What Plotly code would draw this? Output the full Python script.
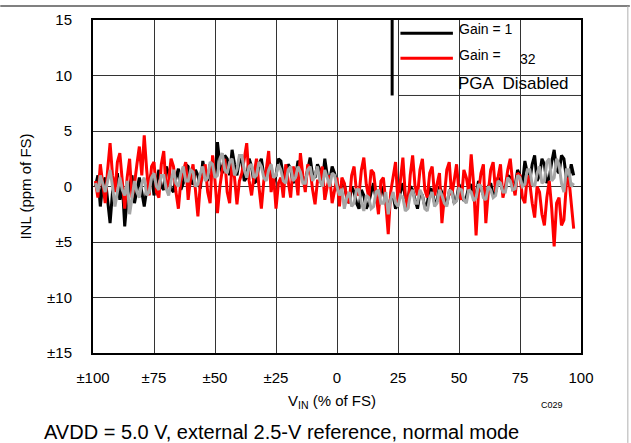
import plotly.graph_objects as go

# ---------------- data ----------------
x_vals = list(range(-99, 98))  # input sample positions, % of FS

inl_gain1 = [
    0.0, 1.0, -1.8, 0.2, 0.8, -1.0, -3.3, -0.5, 0.5, 1.2,
    -1.2, 0.3, -3.6, -1.0, 0.0, 1.0, -1.5, -0.2, 0.8, -0.5,
    -1.8, -0.3, 0.5, 1.2, -0.8, 0.3, 1.5, 0.0, -0.3, 1.8,
    1.2, -0.2, -0.5, 0.8, 1.6, -0.3, 0.3, 2.0, 1.8, 0.5,
    0.2, 1.5, 1.0, -0.2, 2.3, 1.0, 0.5, 2.0, 1.5, 0.8,
    4.0, 2.0, 1.2, 2.8, 2.5, 1.0, 3.3, 2.0, 1.0, 2.5,
    2.2, 0.5, 0.8, 2.5, 1.8, 0.3, 0.5, 2.0, 2.5, 1.0,
    0.8, 2.2, 1.8, 0.2, 1.0, 2.5, 2.3, 0.8, 0.5, 2.0,
    1.6, 0.3, 0.8, 2.3, 2.0, 0.5, 0.5, 1.5, 2.6, 1.0,
    0.8, 2.0, 1.5, 0.3, 2.5, 1.0, 0.5, 1.8, 1.2, 0.3,
    -1.0, 0.5, 0.2, -1.0, -1.5, 0.0, -0.5, -1.5, -2.0, -0.3,
    -0.8, -2.0, -1.5, -0.5, 0.3, -1.2, -1.8, 0.0, -0.5, -1.5,
    -2.3, -1.0, -0.8, -2.0, -1.5, -0.5, 0.3, -1.0, -1.2, 0.0,
    -0.3, -1.2, -2.0, -0.5, -0.8, -1.8, -1.5, -0.2, -0.3, -1.5,
    -1.3, 0.0, -0.5, -1.0, -1.6, -0.5, 0.0, -1.5, -1.2, 0.2,
    -0.5, -1.3, -1.0, 0.0, 0.2, -1.0, -0.8, 0.5, -0.2, -0.8,
    -1.3, 0.0, 0.3, -0.8, -0.5, 0.8, 0.5, -0.5, -0.3, 1.0,
    0.8, -0.2, 0.0, 1.5, 1.0, 0.2, 2.3, 1.2, 0.5, 2.0,
    2.8, 0.5, 1.0, 2.5, 2.0, 0.3, 0.8, 2.2, 3.3, 1.5,
    1.2, 2.8, 2.5, 0.8, 0.5, 2.0, 1.0]

inl_gain32 = [
    0.5, -1.0, 2.0, 0.0, -1.5, 1.5, 3.9, 1.0, -0.5, 2.2,
    3.0, 0.5, -2.0, 0.8, 2.5, -1.0, 0.2, 2.0, 3.6, 1.0,
    4.6, 1.5, -0.8, 1.8, 2.2, -0.5, -1.0, 2.0, 3.2, -0.3,
    0.5, 2.5, 1.8, -0.5, -2.0, 0.5, 1.5, 2.2, -1.2, 0.8,
    2.0, -0.5, -2.7, 0.3, 1.0, 2.0, -0.5, -1.5, 2.8, 0.5,
    -2.4, 0.0, 1.5, 2.5, -0.5, -1.5, 2.2, 0.8, -1.6, 0.5,
    1.2, 2.5, 3.9, 0.5, -0.8, 1.0, 2.5, 0.0, -2.0, 0.5,
    1.5, 3.2, -0.5, 1.0, -2.0, 0.3, 0.8, -1.0, 2.0, 0.5,
    -1.0, 1.8, 1.2, -0.8, 3.0, 1.0, -0.5, 2.0, 1.5, -0.3,
    -1.6, 0.5, 0.5, 1.8, -1.2, 0.0, 1.0, -1.5, -0.5, 0.8,
    -1.8, 0.8, 0.3, -1.0, -1.5, 1.0, 1.8, -0.5, -0.8, 1.5,
    2.6, 0.2, -1.0, 1.5, 1.2, -0.8, -2.5, 0.5, 0.8, -1.5,
    -4.3, -0.5, 1.0, 2.2, -1.5, 0.5, 2.6, -0.8, -2.0, 1.0,
    2.8, 0.0, -0.8, 1.5, 2.5, -0.3, -1.0, 1.2, 1.8, -0.8,
    0.2, 1.2, -3.3, -0.5, 1.5, 2.2, -0.8, 0.5, 2.0, -0.5,
    -1.2, 1.5, 0.8, -0.5, 2.9, 0.2, -4.4, -0.5, 1.2, 2.0,
    -3.3, -0.5, 1.5, 2.2, -0.5, 0.8, 2.0, -1.0, 0.0, 1.5,
    2.5, 0.3, -0.8, 1.2, 1.0, -1.0, -1.5, 1.0, 0.3, -1.5,
    -2.8, 0.0, -0.5, -2.5, -3.5, -1.0, 0.5, -2.0, -5.4, -1.5,
    -1.0, -3.5, -3.0, 0.2, 0.8, -1.5, -3.8]

inl_pga_off = [
    0.3, -0.5, 1.0, 0.2, -0.5, 0.5, 1.5, 0.0, -1.8, -0.5,
    0.8, -0.3, -0.8, 0.5, -2.5, -1.0, 0.5, -0.5, -1.0, 0.3,
    0.8, -0.8, -0.5, 0.8, 1.2, 0.0, -0.3, 1.0, 1.0, -0.2,
    -0.8, 0.5, 1.5, 0.3, 0.0, 1.2, 1.8, 0.5, 0.5, 1.5,
    1.3, 0.0, 0.2, 1.2, 1.8, 0.5, 0.8, 2.2, 2.0, 0.8,
    1.0, 2.5, 3.0, 1.5, 1.2, 2.2, 2.5, 1.0, 1.5, 2.8,
    2.8, 1.5, 0.8, 1.8, 2.0, 0.8, 1.0, 2.2, 1.8, 0.8,
    0.5, 1.5, 2.0, 0.8, 1.0, 2.0, 1.5, 0.5, 0.3, 1.5,
    1.8, 0.5, 0.8, 1.8, 1.3, 0.3, 0.3, 1.5, 1.8, 0.5,
    1.0, 1.8, 0.5, 0.0, 1.5, 0.8, 0.0, 1.2, 1.0, 0.0,
    -0.8, -0.2, -2.0, -1.0, -0.5, -1.8, -1.5, -0.3, -0.3, -1.5,
    -2.2, -0.8, -1.0, -2.0, -1.8, -0.5, -0.3, -1.5, -1.5, -0.5,
    -2.5, -1.2, -0.5, -1.5, -1.8, -0.8, -1.0, -2.2, -2.0, -0.8,
    -0.3, -1.5, -1.5, -0.3, -0.8, -2.0, -2.2, -1.0, -0.5, -1.8,
    -1.5, -0.3, -0.8, -1.5, -1.8, -0.3, -0.5, -1.5, -1.3, -0.2,
    -0.3, -1.2, -1.5, -0.3, -0.5, -1.3, -1.0, 0.2, 0.0, -1.0,
    -1.2, 0.0, -0.3, -1.0, -0.8, 0.5, 0.3, -0.5, -0.5, 0.8,
    0.5, -0.3, -0.2, 1.0, 0.8, 0.0, 0.2, 1.5, 1.5, 0.2,
    0.0, 1.2, 1.8, 0.3, 0.5, 2.2, 2.5, 0.5, 0.8, 2.5,
    2.0, 0.3, -0.5, 1.5, 1.5, 0.0, 0.3]

x_ticks = [-100, -75, -50, -25, 0, 25, 50, 75, 100]
x_ticktext = ["±100", "±75", "±50", "±25", "0", "25", "50", "75", "100"]
y_ticks = [-15, -10, -5, 0, 5, 10, 15]
y_ticktext = ["±15", "±10", "±5", "0", "5", "10", "15"]

FONT = "Arial, Liberation Sans, sans-serif"

fig = go.Figure()
fig.add_trace(go.Scatter(x=x_vals, y=inl_gain1, mode="lines", name="Gain = 1",
                         line=dict(color="#000000", width=3)))
fig.add_trace(go.Scatter(x=x_vals, y=inl_gain32, mode="lines", name="Gain = 32",
                         line=dict(color="#ff0000", width=3)))
fig.add_trace(go.Scatter(x=x_vals, y=inl_pga_off, mode="lines", name="PGA Disabled",
                         line=dict(color="#a6a6a6", width=3)))

fig.update_layout(
    width=631, height=443,
    margin=dict(l=93, r=50, t=20, b=90),
    paper_bgcolor="white", plot_bgcolor="white",
    showlegend=False,
    font=dict(family=FONT, color="#000000", size=15),
)
fig.update_xaxes(range=[-100, 100], tickvals=x_ticks, ticktext=x_ticktext,
                 showgrid=True, gridcolor="#333333", gridwidth=1, zeroline=False,
                 showline=True, linecolor="#000000", linewidth=2, mirror=True,
                 ticks="", ticklabelstandoff=10, tickfont=dict(size=15))
fig.update_yaxes(range=[-15, 15], tickvals=y_ticks, ticktext=y_ticktext,
                 showgrid=True, gridcolor="#333333", gridwidth=1, zeroline=False,
                 showline=True, linecolor="#000000", linewidth=2, mirror=True,
                 ticks="", ticklabelstandoff=16, tickfont=dict(size=15),
                 title=dict(text="INL (ppm of FS)", font=dict(size=15), standoff=12))

# legend drawn as a table, like the reference
shapes = [
    dict(type="line", xref="x", yref="y", x0=22.6, x1=22.6, y0=15, y1=8.2,
         line=dict(color="#000000", width=3)),
    dict(type="line", xref="x", yref="y", x0=25, x1=100, y0=8.2, y1=8.2,
         line=dict(color="#333333", width=1)),
    dict(type="line", xref="x", yref="y", x0=26, x1=47.5, y0=13.8, y1=13.8,
         line=dict(color="#000000", width=3)),
    dict(type="line", xref="x", yref="y", x0=26, x1=47.5, y0=11.55, y1=11.55,
         line=dict(color="#ff0000", width=3)),
    # page frame lines
    dict(type="line", xref="paper", yref="paper", x0=-0.19, x1=1.1, y0=1.042, y1=1.042,
         layer="above", line=dict(color="#808080", width=2)),
    dict(type="line", xref="paper", yref="paper", x0=1.096, x1=1.096, y0=1.042, y1=-0.27,
         layer="above", line=dict(color="#b0b0b0", width=1)),
]
fig.update_layout(shapes=shapes)

anns = [
    dict(x=50.0, y=14.2, text="Gain = 1", font=dict(size=14)),
    dict(x=50.0, y=11.85, text="Gain =", font=dict(size=14)),
    dict(x=74.8, y=11.45, text="32", font=dict(size=14)),
    dict(x=49.6, y=9.3, text="PGA  Disabled", font=dict(size=17)),
]
for a in anns:
    fig.add_annotation(xref="x", yref="y", showarrow=False, xanchor="left",
                       xshift=-2, **a)

fig.add_annotation(xref="paper", yref="paper", x=0.49, y=-0.147, showarrow=False,
                   yanchor="middle", text="V<sub>IN</sub> (% of FS)", font=dict(size=15))
fig.add_annotation(xref="paper", yref="paper", x=0.967, y=-0.156, showarrow=False,
                   yanchor="middle", text="C029", font=dict(size=9))
fig.add_annotation(xref="paper", yref="paper", x=-0.104, y=-0.237, showarrow=False,
                   xanchor="left", yanchor="middle",
                   text="AVDD = 5.0 V, external 2.5-V reference, normal mode",
                   font=dict(size=20))

fig.write_html("out.html", config={"displayModeBar": False},
               post_script="document.body.style.margin='0';")
